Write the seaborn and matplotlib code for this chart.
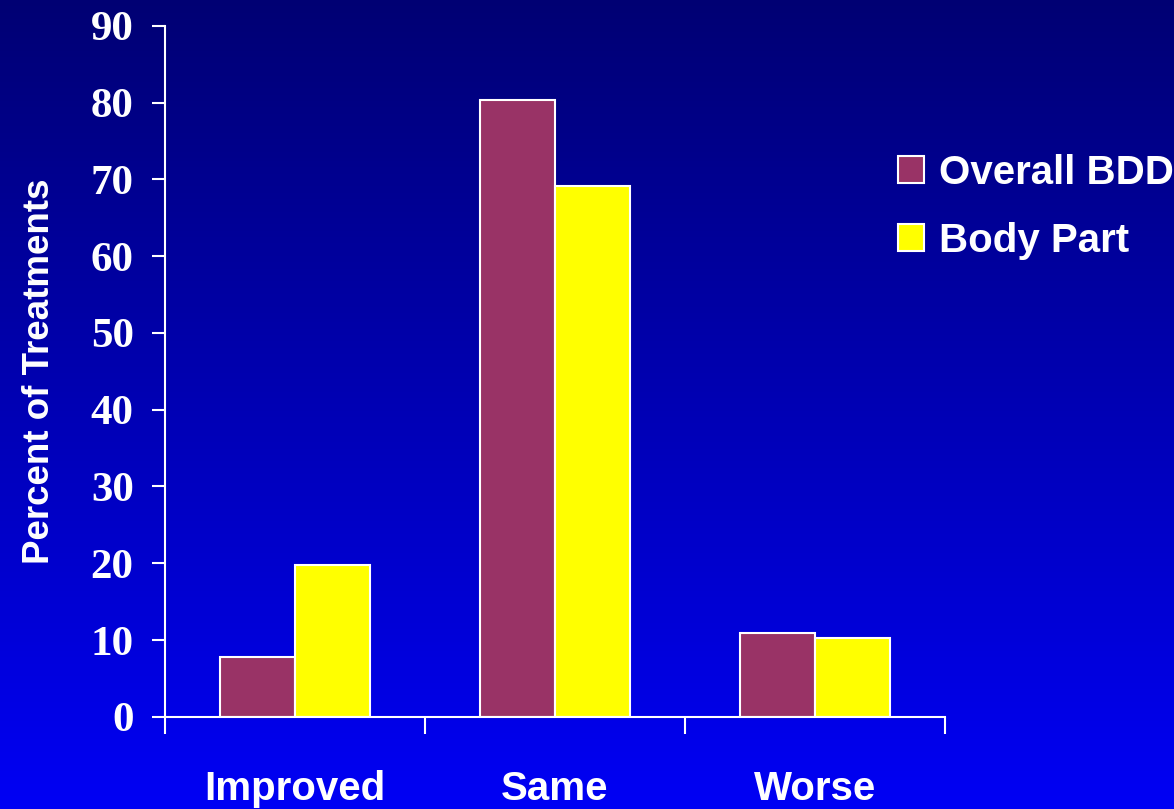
import numpy as np
import pandas as pd
import seaborn as sns
import matplotlib.pyplot as plt
from matplotlib.ticker import FixedLocator

# values
outcomes = ["Improved", "Same", "Worse"]
overall_bdd = [7.8, 80.3, 10.9]
body_part = [19.8, 69.1, 10.3]
series_names = ["Overall BDD", "Body Part"]
y_ticks = [0, 10, 20, 30, 40, 50, 60, 70, 80, 90]

df = pd.DataFrame({
    "outcome": outcomes * 2,
    "percent": overall_bdd + body_part,
    "series": [series_names[0]] * 3 + [series_names[1]] * 3,
})

sns.set_style("white")
fig = plt.figure(figsize=(11.74, 8.09), dpi=100)

# blue gradient background, dark navy on top
bg = fig.add_axes([0, 0, 1, 1], zorder=-10)
grad = np.linspace(0, 1, 256).reshape(-1, 1)
top = np.array([0, 0, 115]) / 255
bottom = np.array([0, 0, 245]) / 255
img = top + grad[..., None] * (bottom - top)
bg.imshow(img, aspect="auto", extent=[0, 1, 0, 1])
bg.axis("off")

ax = fig.add_axes([0.1405, 0.114, 0.6645, 0.854])
ax.patch.set_alpha(0)
sns.barplot(data=df, x="outcome", y="percent", hue="series", order=outcomes,
            hue_order=series_names, palette=["#993366", "#ffff00"], saturation=1,
            width=0.577, edgecolor="white", linewidth=1.5, ax=ax)

ax.set_xlim(-0.5, 2.5)
ax.set_ylim(0, 90)
ax.set_yticks(y_ticks)
ax.set_xlabel("")
ax.set_ylabel("Percent of Treatments", fontsize=26.5, fontweight="bold",
              color="white", family="Liberation Sans", labelpad=24)

for side in ["top", "right"]:
    ax.spines[side].set_visible(False)
for side in ["left", "bottom"]:
    ax.spines[side].set_color("white")
    ax.spines[side].set_linewidth(1.5)

ax.tick_params(axis="y", direction="out", length=9.5, width=1.5, color="white",
               labelcolor="white", labelsize=31, pad=13, left=True)
for lab in ax.get_yticklabels():
    lab.set_family("Liberation Serif")
    lab.set_fontweight("bold")

# category separators as minor ticks, labels at centers
ax.xaxis.set_minor_locator(FixedLocator([-0.5, 0.5, 1.5, 2.5]))
ax.tick_params(axis="x", which="minor", direction="out", length=12, width=1.5,
               color="white", bottom=True)
ax.tick_params(axis="x", which="major", length=0, labelcolor="white",
               labelsize=29, pad=38)
for lab in ax.get_xticklabels():
    lab.set_family("Liberation Sans")
    lab.set_fontweight("bold")

handles, labels = ax.get_legend_handles_labels()
ax.legend(handles, labels, loc="upper left", bbox_to_anchor=(0.748, 0.835),
          bbox_transform=fig.transFigure, frameon=False, borderpad=0,
          handlelength=0.65, handleheight=0.65, handletextpad=0.35,
          labelspacing=0.75, prop={"family": "Liberation Sans", "weight": "bold", "size": 29},
          labelcolor="white")

fig.savefig("out.png", dpi=100)
